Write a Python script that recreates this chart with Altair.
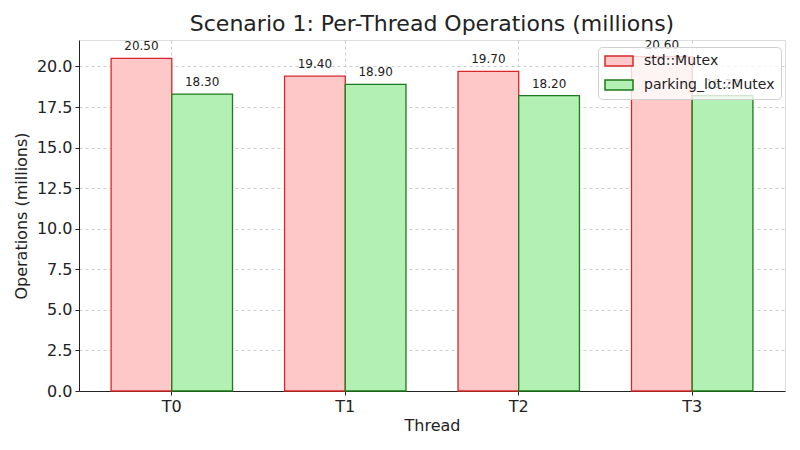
import altair as alt
import pandas as pd

threads = ["T0", "T1", "T2", "T3"]
std_mutex = [20.50, 19.40, 19.70, 20.60]
parking_lot = [18.30, 18.90, 18.20, 18.20]
series_names = ["std::Mutex", "parking_lot::Mutex"]
y_ticks = [0, 2.5, 5, 7.5, 10, 12.5, 15, 17.5, 20]

rows = []
for t, a, b in zip(threads, std_mutex, parking_lot):
    rows.append({"Thread": t, "Impl": series_names[0], "Ops": a})
    rows.append({"Thread": t, "Impl": series_names[1], "Ops": b})
df = pd.DataFrame(rows)

FONT = "DejaVu Sans"
fills = ["#ffc8c8", "#b3f0b3"]
strokes = ["#d62828", "#1b7a1b"]

x_enc = alt.X("Thread:N", sort=threads, title="Thread",
              scale=alt.Scale(paddingInner=0.3, paddingOuter=0.185),
              axis=alt.Axis(labelAngle=0, grid=True, bandPosition=0.5,
                            gridDash=[3, 3], gridColor="#c0c0c0", gridWidth=0.8,
                            domainColor="#222222", tickColor="#222222",
                            labelFontSize=16, titleFontSize=16, labelColor="#222222",
                            titleColor="#222222", labelPadding=3, titlePadding=3,
                            tickSize=4))
y_scale = alt.Scale(domain=[0, 21.63], nice=False, zero=True)
y_enc = alt.Y("Ops:Q", title="Operations (millions)", scale=y_scale,
              axis=alt.Axis(values=y_ticks, format=".1f", grid=True,
                            gridDash=[3, 3], gridColor="#c0c0c0", gridWidth=0.8,
                            domainColor="#222222", tickColor="#222222",
                            labelFontSize=16, titleFontSize=16, labelColor="#222222",
                            titleColor="#222222", tickSize=4, labelPadding=3,
                            titlePadding=7))

xoff = alt.XOffset("Impl:N", sort=series_names, scale=alt.Scale(paddingInner=0, paddingOuter=0))

bars = alt.Chart(df).mark_bar(strokeWidth=1.3, opacity=1).encode(
    x=x_enc,
    xOffset=xoff,
    y=y_enc,
    fill=alt.Fill("Impl:N", sort=series_names,
                  scale=alt.Scale(domain=series_names, range=fills),
                  legend=alt.Legend(title=None, orient="none", legendX=519, legendY=7,
                                    symbolType="M-2,-0.714L2,-0.714L2,0.714L-2,0.714Z",
                                    symbolSize=196, symbolStrokeWidth=1.5,
                                    symbolOffset=7,
                                    labelFontSize=14, labelFont=FONT, labelColor="#222222",
                                    rowPadding=8, fillColor="rgba(255,255,255,0.8)",
                                    strokeColor="#d0d0d0", cornerRadius=4, padding=6,
                                    labelOffset=17)),
    stroke=alt.Stroke("Impl:N", sort=series_names,
                      scale=alt.Scale(domain=series_names, range=strokes),
                      legend=None),
)

labels = alt.Chart(df).mark_text(baseline="bottom", dy=-5, fontSize=12,
                                 font=FONT, color="#222222").encode(
    x=alt.X("Thread:N", sort=threads),
    xOffset=xoff,
    y=alt.Y("Ops:Q", scale=y_scale),
    text=alt.Text("Ops:Q", format=".2f"),
)

chart = alt.layer(bars, labels).properties(
    width=706, height=351,
    title=alt.Title("Scenario 1: Per-Thread Operations (millions)", fontSize=22,
                    font=FONT, fontWeight="normal", color="#222222", offset=3),
    autosize=alt.AutoSizeParams(type="none"),
    padding={"left": 71, "top": 32, "right": 7, "bottom": 51},
).configure_view(strokeWidth=0, stroke="transparent").configure(font=FONT).configure_axis(
    labelFont=FONT, titleFont=FONT, titleFontWeight="normal",
    labelFontSize=16, titleFontSize=16)

chart.save("out.html", embed_options={"renderer": "svg", "actions": False})
